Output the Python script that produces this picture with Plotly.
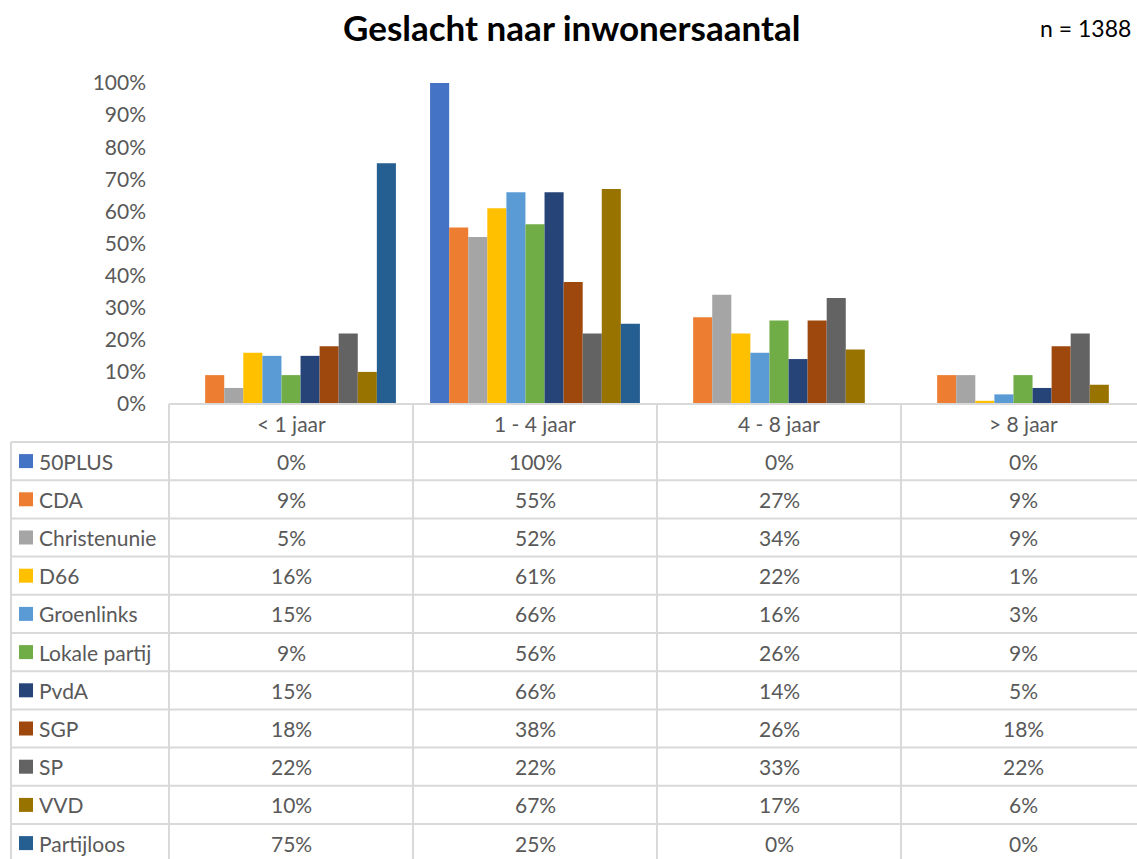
import plotly.graph_objects as go

W, H = 1137, 859

categories = ["< 1 jaar", "1 - 4 jaar", "4 - 8 jaar", "> 8 jaar"]
parties = ["50PLUS", "CDA", "Christenunie", "D66", "Groenlinks", "Lokale partij",
           "PvdA", "SGP", "SP", "VVD", "Partijloos"]
colors = ["#4472C4", "#ED7D31", "#A5A5A5", "#FFC000", "#5B9BD5", "#70AD47",
          "#264478", "#9E480E", "#636363", "#997300", "#255E91"]

v_50plus = [0, 100, 0, 0]
v_cda = [9, 55, 27, 9]
v_christenunie = [5, 52, 34, 9]
v_d66 = [16, 61, 22, 1]
v_groenlinks = [15, 66, 16, 3]
v_lokale = [9, 56, 26, 9]
v_pvda = [15, 66, 14, 5]
v_sgp = [18, 38, 26, 18]
v_sp = [22, 22, 33, 22]
v_vvd = [10, 67, 17, 6]
v_partijloos = [75, 25, 0, 0]

values = [v_50plus, v_cda, v_christenunie, v_d66, v_groenlinks, v_lokale,
          v_pvda, v_sgp, v_sp, v_vvd, v_partijloos]

title_text = "Geslacht naar inwonersaantal"
n_text = "n = 1388"

FONT = "Lato, 'Open Sans', sans-serif"
TXT = "#595959"
GRID = "#D9D9D9"
FS = 21

def px(x):
    return x / W

def py(y):
    return 1 - y / H

# layout geometry (pixels)
x_left_tbl = 11
x_axis0 = 169
col_w = 244
y_zero = 404
y_top = 83
y_hdr_bot = 442
row_h = 38.2

fig = go.Figure()
for name, col, vals in zip(parties, colors, values):
    fig.add_trace(go.Bar(
        x=list(range(len(categories))), y=[v / 100 for v in vals],
        name=name, marker=dict(color=col, line=dict(width=0)),
    ))

x_range_end = -0.5 + (W - x_axis0) / col_w

fig.update_layout(
    width=W, height=H,
    margin=dict(l=0, r=0, t=0, b=0, pad=0, autoexpand=False),
    paper_bgcolor="white", plot_bgcolor="white",
    barmode="group", bargap=0.14, bargroupgap=0,
    showlegend=False,
    font=dict(family=FONT, color=TXT),
    xaxis=dict(domain=[px(x_axis0), 1], range=[-0.5, x_range_end],
               showticklabels=False, showgrid=False, zeroline=False,
               showline=False, ticks="", automargin=False),
    yaxis=dict(domain=[py(y_zero), py(y_top)], range=[0, 1],
               tickformat=".0%", dtick=0.1, showgrid=False, zeroline=False,
               showline=False, ticks="", ticklabelstandoff=22, automargin=False,
               tickfont=dict(size=FS, color=TXT, family=FONT)),
)

shapes = []
line = dict(color=GRID, width=2)
n_rows = len(parties)
y_bottom = y_hdr_bot + n_rows * row_h
shapes.append(dict(type="line", xref="paper", yref="paper",
                   x0=px(x_axis0), x1=1.01, y0=py(y_zero), y1=py(y_zero), line=line))
for i in range(n_rows + 1):
    yy = y_hdr_bot + i * row_h
    shapes.append(dict(type="line", xref="paper", yref="paper",
                       x0=px(x_left_tbl), x1=1.01, y0=py(yy), y1=py(yy), line=line))
shapes.append(dict(type="line", xref="paper", yref="paper",
                   x0=px(x_left_tbl), x1=px(x_left_tbl), y0=py(y_hdr_bot), y1=py(y_bottom), line=line))
for j in range(len(categories) + 1):
    xx = x_axis0 + j * col_w
    shapes.append(dict(type="line", xref="paper", yref="paper",
                       x0=px(xx), x1=px(xx), y0=py(y_zero), y1=py(y_bottom), line=line))

annotations = []
for j, c in enumerate(categories):
    annotations.append(dict(x=px(x_axis0 + (j + 0.5) * col_w), y=py((y_zero + y_hdr_bot) / 2),
                            xref="paper", yref="paper", text=c, showarrow=False,
                            xanchor="center", yanchor="middle",
                            font=dict(size=FS, color=TXT, family=FONT)))
for i, (name, col, vals) in enumerate(zip(parties, colors, values)):
    yc = y_hdr_bot + (i + 0.5) * row_h
    shapes.append(dict(type="rect", xref="paper", yref="paper",
                       x0=px(19), x1=px(33), y0=py(yc + 7), y1=py(yc - 7),
                       fillcolor=col, line=dict(width=0)))
    annotations.append(dict(x=px(37), y=py(yc), xref="paper", yref="paper",
                            text=name, showarrow=False, xanchor="left", yanchor="middle",
                            font=dict(size=FS, color=TXT, family=FONT)))
    for j, v in enumerate(vals):
        annotations.append(dict(x=px(x_axis0 + (j + 0.5) * col_w), y=py(yc),
                                xref="paper", yref="paper", text=f"{v}%", showarrow=False,
                                xanchor="center", yanchor="middle",
                                font=dict(size=FS, color=TXT, family=FONT)))

annotations.append(dict(x=px(571), y=py(27), xref="paper", yref="paper",
                        text=f"<b>{title_text}</b>", showarrow=False,
                        xanchor="center", yanchor="middle",
                        font=dict(size=35, color="black", family=FONT)))
annotations.append(dict(x=px(1133), y=py(28), xref="paper", yref="paper",
                        text=n_text, showarrow=False, xanchor="right", yanchor="middle",
                        font=dict(size=23, color="black", family=FONT)))

fig.update_layout(shapes=shapes, annotations=annotations)
fig.write_html("out.html", config={"displayModeBar": False},
               post_script="document.body.style.margin='0';document.body.style.overflow='hidden';")
